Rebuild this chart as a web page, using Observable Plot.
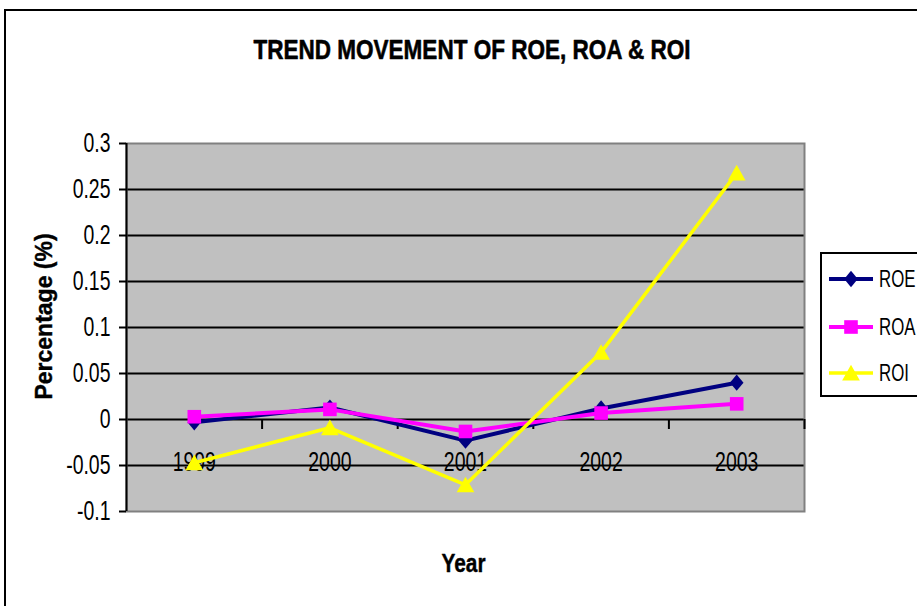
<!DOCTYPE html>
<html>
<head>
<meta charset="utf-8">
<script src="https://cdn.jsdelivr.net/npm/d3@7"></script>
<script src="https://cdn.jsdelivr.net/npm/@observablehq/plot@0.6"></script>
<style>
  html, body { margin: 0; padding: 0; background: #fff; }
  #wrap { position: relative; width: 917px; height: 606px; overflow: hidden; background: #fff; }
  #outer { position: absolute; left: 4px; top: 9px; width: 1000px; height: 700px; border: 2px solid #000; pointer-events: none; z-index: 2; }
  #chart { position: absolute; left: 0; top: 0; z-index: 1; }
  #legend { position: absolute; left: 820px; top: 252px; width: 200px; height: 141px; border: 2px solid #000; background: #fff; z-index: 3; }
</style>
</head>
<body>
<div id="wrap">
  <div id="chart"></div>
  <div id="outer"></div>
  <div id="legend"></div>
</div>
<script>
// ---- data ----
const years = ["1999", "2000", "2001", "2002", "2003"];
const roe = [-0.003, 0.013, -0.023, 0.012, 0.040];
const roa = [0.003, 0.011, -0.013, 0.007, 0.017];
const roi = [-0.047, -0.009, -0.071, 0.073, 0.268];
const seriesNames = ["ROE", "ROA", "ROI"];
const yTicks = [-0.1, -0.05, 0, 0.05, 0.1, 0.15, 0.2, 0.25, 0.3];
const titleText = "TREND MOVEMENT OF ROE, ROA & ROI";
const xLabel = "Year";
const yLabel = "Percentage (%)";

// ---- styling ----
const font = "'Liberation Sans', Arial, sans-serif";
const colors = { ROE: "#000080", ROA: "#FF00FF", ROI: "#FFFF00" };

// custom marker shapes (Excel-like)
const diamond = { draw(ctx, size) { const r = Math.sqrt(size / Math.PI); ctx.moveTo(0, -r * 1.2); ctx.lineTo(r, 0); ctx.lineTo(0, r * 1.2); ctx.lineTo(-r, 0); ctx.closePath(); } };
const square = { draw(ctx, size) { const r = Math.sqrt(size / Math.PI); ctx.rect(-r, -r, 2 * r, 2 * r); } };
const triangle = { draw(ctx, size) { const r = Math.sqrt(size / Math.PI); ctx.moveTo(0, -r * 1.2); ctx.lineTo(r * 1.3, r * 1.1); ctx.lineTo(-r * 1.3, r * 1.1); ctx.closePath(); } };
const symbols = { ROE: diamond, ROA: square, ROI: triangle };
const widths = { ROE: 4, ROA: 4, ROI: 3.5 };

const valuesBy = { ROE: roe, ROA: roa, ROI: roi };
const rows = seriesNames.map(s => years.map((y, i) => ({ series: s, i, year: y, v: valuesBy[s][i] })));

const xDomain = [-0.5, years.length - 0.5];
const boundaries = years.map((y, i) => i + 0.5);
const yDomain = [yTicks[0], yTicks[yTicks.length - 1]];
const innerGrid = yTicks.slice(1, -1);
const tickLen = (yDomain[1] - yDomain[0]) / 368 * 10;

const fmt = d => String(+d.toFixed(2));

const marks = [
  Plot.frame({ fill: "#C0C0C0" }),
  Plot.ruleY(innerGrid, { stroke: "#000", strokeWidth: 2 }),
  Plot.frame({ stroke: "#808080", strokeWidth: 2 }),
  Plot.ruleX([xDomain[0]], { stroke: "#000", strokeWidth: 2 }),
  Plot.ruleX(boundaries, { x: d => d, y1: 0, y2: -tickLen, stroke: "#000", strokeWidth: 2 }),
  Plot.axisY({ ticks: yTicks, tickFormat: fmt, tickSize: 7, tickPadding: 9, strokeWidth: 2, fontSize: 27, fontFamily: font, fill: "#000", label: null }),
  Plot.text(years, { x: (d, i) => i, y: 0, dy: 43, text: d => d, fontSize: 27, fontFamily: font, fill: "#000" }),
];
for (const s of seriesNames) {
  const data = rows[seriesNames.indexOf(s)];
  marks.push(Plot.line(data, { x: "i", y: "v", stroke: colors[s], strokeWidth: widths[s] }));
  marks.push(Plot.dot(data, { x: "i", y: "v", symbol: symbols[s], r: 6.8, fill: colors[s], stroke: "none" }));
}
marks.push(
  Plot.text([titleText], { frameAnchor: "top", lineAnchor: "middle", textAnchor: "middle", dx: 6.5, dy: -93, fontSize: 28, fontWeight: "bold", fontFamily: font, fill: "#000", stroke: "#000", strokeWidth: 0.6 }),
  Plot.text([xLabel], { frameAnchor: "bottom", lineAnchor: "middle", textAnchor: "middle", dx: -2, dy: 52, fontSize: 25, fontWeight: "bold", fontFamily: font, fill: "#000", stroke: "#000", strokeWidth: 0.4 }),
  Plot.text([yLabel], { frameAnchor: "left", lineAnchor: "middle", textAnchor: "middle", dx: -82, dy: -11, rotate: -90, fontSize: 23, fontWeight: "bold", fontFamily: font, fill: "#000", stroke: "#000", strokeWidth: 0.4 })
);

const chart = Plot.plot({
  width: 917,
  height: 606,
  marginTop: 143,
  marginBottom: 95,
  marginLeft: 126,
  marginRight: 113,
  style: { background: "transparent", fontFamily: font, color: "#000", overflow: "visible" },
  x: { type: "linear", domain: xDomain, axis: null },
  y: { domain: yDomain, axis: null },
  marks
});
document.getElementById("chart").appendChild(chart);

// horizontally condense text like the (squeezed) original
function condense(el, factor, target) {
  const L = el.getComputedTextLength();
  if (!L) return;
  el.setAttribute("textLength", target != null ? target : L * factor);
  el.setAttribute("lengthAdjust", "spacingAndGlyphs");
}
d3.select(chart).selectAll("text").each(function () {
  const t = this.textContent;
  if (t === yLabel) return;
  if (t === titleText) condense(this, null, 437);
  else if (t === xLabel) condense(this, null, 44);
  else condense(this, 0.72);
});

// ---- legend ----
const leg = d3.select("#legend").append("svg").attr("width", 200).attr("height", 141)
  .style("position", "absolute").style("left", "-2px").style("top", "-2px").style("overflow", "visible");
const legY = { ROE: 27, ROA: 75, ROI: 121 };
seriesNames.forEach(s => {
  const g = leg.append("g").attr("transform", `translate(0,${legY[s]})`);
  g.append("line").attr("x1", 9).attr("x2", 53).attr("y1", 0).attr("y2", 0).attr("stroke", colors[s]).attr("stroke-width", widths[s]);
  g.append("path").attr("transform", "translate(31,0)").attr("d", d3.symbol().type(symbols[s]).size(Math.PI * 6.8 * 6.8)()).attr("fill", colors[s]);
  const tx = g.append("text").attr("x", 59).attr("y", 0).attr("dy", "0.35em").attr("font-family", font).attr("font-size", 23).attr("fill", "#000").text(s);
  condense(tx.node(), 0.73);
});
</script>
</body>
</html>
